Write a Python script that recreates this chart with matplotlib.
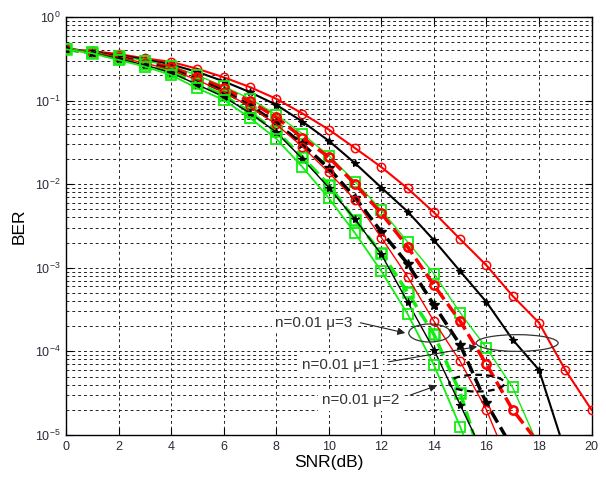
import matplotlib
matplotlib.use("Agg")
import matplotlib.pyplot as plt
from matplotlib.patches import Ellipse

plt.rcParams['font.family'] = ['Liberation Sans', 'DejaVu Sans']
plt.rcParams['mathtext.default'] = 'regular'

# ---- data (SNR in dB, BER) ----
snr_rk = list(range(0, 21))
ber_rk = [0.41, 0.39, 0.36, 0.32, 0.29, 0.24, 0.19, 0.145, 0.105, 0.070, 0.045,
          0.027, 0.016, 0.0089, 0.0046, 0.0022, 0.00107, 4.6e-4, 2.2e-4, 6.0e-5, 2.0e-5]

snr_bs = list(range(0, 20))
ber_bs = [0.41, 0.385, 0.35, 0.31, 0.27, 0.22, 0.17, 0.126, 0.089, 0.056, 0.033,
          0.0178, 0.0091, 0.0047, 0.00214, 9.1e-4, 3.9e-4, 1.38e-4, 6.0e-5, 6.3e-6]

snr_gr = list(range(0, 19))
ber_gr = [0.41, 0.38, 0.34, 0.30, 0.26, 0.20, 0.148, 0.105, 0.068, 0.040, 0.022,
          0.0107, 0.0049, 0.00204, 8.5e-4, 2.9e-4, 1.1e-4, 3.7e-5, 7.2e-6]

snr_rd = list(range(0, 19))
ber_rd = [0.41, 0.38, 0.34, 0.29, 0.25, 0.19, 0.141, 0.098, 0.063, 0.036, 0.021,
          0.0100, 0.0045, 0.00178, 6.2e-4, 2.3e-4, 7.0e-5, 2.0e-5, 7.9e-6]

snr_bd = list(range(0, 18))
ber_bd = [0.41, 0.376, 0.33, 0.28, 0.237, 0.178, 0.130, 0.087, 0.054, 0.030, 0.0155,
          0.0069, 0.0027, 0.00112, 3.6e-4, 1.2e-4, 2.4e-5, 6.9e-6]

snr_gd = list(range(0, 17))
ber_gd = [0.41, 0.37, 0.32, 0.27, 0.22, 0.16, 0.115, 0.072, 0.043, 0.021, 0.0098,
          0.0037, 0.0015, 5.1e-4, 1.6e-4, 3.2e-5, 3.3e-6]

snr_rt = list(range(0, 18))
ber_rt = [0.41, 0.376, 0.33, 0.28, 0.234, 0.176, 0.127, 0.085, 0.052, 0.028, 0.0138,
          0.0065, 0.0023, 7.8e-4, 2.3e-4, 7.6e-5, 2.0e-5, 3.5e-6]

snr_bt = list(range(0, 17))
ber_bt = [0.41, 0.37, 0.316, 0.266, 0.216, 0.155, 0.111, 0.071, 0.042, 0.020, 0.0091,
          0.0038, 0.00145, 3.9e-4, 1.05e-4, 2.3e-5, 5e-6]

snr_gl = list(range(0, 17))
ber_gl = [0.41, 0.367, 0.306, 0.255, 0.202, 0.140, 0.102, 0.062, 0.035, 0.016, 0.0068,
          0.0026, 9.1e-4, 2.8e-4, 6.9e-5, 1.26e-5, 2e-6]

x_ticks = list(range(0, 21, 2))
ann_labels = ['n=0.01 \u03bc=3', 'n=0.01 \u03bc=1', 'n=0.01 \u03bc=2']

RED = '#ff0000'
GREEN = '#11ee11'
BLACK = '#000000'

fig = plt.figure(figsize=(6.06, 4.79), dpi=100)
ax = fig.add_axes([0.1089, 0.0919, 0.8672, 0.8727])
ax.set_yscale('log')

def ln(x, y, color, ls, lw, marker, ms, mew, fill='none'):
    ax.plot(x, y, color=color, linestyle=ls, linewidth=lw, marker=marker,
            markersize=ms, markeredgewidth=mew, markerfacecolor=fill,
            markeredgecolor=color, zorder=3)

# mu = 1 (solid)
ln(snr_rk, ber_rk, RED, '-', 1.5, 'o', 6, 1.1)
ln(snr_bs, ber_bs, BLACK, '-', 1.5, '*', 6, 0.8, fill=BLACK)
ln(snr_gr, ber_gr, GREEN, '-', 1.0, 's', 7, 1.3)
# mu = 2 (dashed)
ln(snr_rd, ber_rd, RED, '--', 2.5, 'o', 6, 1.8)
ln(snr_bd, ber_bd, BLACK, '--', 2.5, '*', 7, 1.0, fill=BLACK)
ln(snr_gd, ber_gd, GREEN, '--', 2.5, 's', 7, 1.8)
# mu = 3 (thin solid)
ln(snr_rt, ber_rt, RED, '-', 1.0, 'o', 6, 1.1)
ln(snr_bt, ber_bt, BLACK, '-', 1.0, '*', 6, 0.8, fill=BLACK)
ln(snr_gl, ber_gl, GREEN, '-', 1.3, 's', 7, 1.3)

ax.set_xlim(0, 20)
ax.set_ylim(1e-5, 1)
ax.set_xticks(x_ticks)
ax.set_xticklabels([str(t) for t in x_ticks])
ax.set_yticks([1e-5, 1e-4, 1e-3, 1e-2, 1e-1, 1])

ax.grid(True, which='major', axis='x', color='#222222', linestyle=(0, (3, 3)), linewidth=0.7)
ax.grid(True, which='both', axis='y', color='#222222', linestyle=(0, (3, 3)), linewidth=0.7)
ax.set_axisbelow(True)

ax.tick_params(which='major', direction='in', length=5, width=0.8, top=True, right=True,
               labelsize=9, labelcolor='#2a2a3a', pad=4)
ax.tick_params(which='minor', direction='in', length=0, top=False, right=False)
for s in ax.spines.values():
    s.set_linewidth(1.0)
    s.set_color('black')

ax.set_xlabel('SNR(dB)', fontsize=12.5, labelpad=2)
ax.set_ylabel('BER', fontsize=12.5, labelpad=6)

# annotations
tcol = '#333333'
box = dict(facecolor='white', edgecolor='none', pad=2.5)
ax.text(7.96, 2.2e-4, ann_labels[0], fontsize=11, color=tcol, va='center', ha='left', bbox=box, zorder=4)
ax.text(8.98, 6.9e-5, ann_labels[1], fontsize=11, color=tcol, va='center', ha='left', bbox=box, zorder=4)
ax.text(9.74, 2.6e-5, ann_labels[2], fontsize=11, color=tcol, va='center', ha='left', bbox=box, zorder=4)

ap = dict(arrowstyle='-|>', color='#222222', lw=0.8, mutation_scale=11, shrinkA=0, shrinkB=0)
ax.annotate('', xy=(12.91, 1.66e-4), xytext=(11.2, 2.2e-4), arrowprops=ap, zorder=5)
ax.annotate('', xy=(15.65, 1.14e-4), xytext=(12.28, 7.5e-5), arrowprops=ap, zorder=5)
ax.annotate('', xy=(14.12, 3.9e-5), xytext=(13.10, 3.0e-5), arrowprops=ap, zorder=5)

ax.add_patch(Ellipse((0.692, 0.244), 0.0794, 0.043, transform=ax.transAxes,
                     fill=False, edgecolor='#333333', lw=0.9, zorder=5))
ax.add_patch(Ellipse((0.8585, 0.22), 0.156, 0.040, transform=ax.transAxes,
                     fill=False, edgecolor='#333333', lw=0.9, zorder=5))
ax.add_patch(Ellipse((0.782, 0.124), 0.105, 0.040, transform=ax.transAxes,
                     fill=False, edgecolor='black', lw=1.6, linestyle=(0, (3, 2)), zorder=5))

fig.savefig('out.png', dpi=100)
